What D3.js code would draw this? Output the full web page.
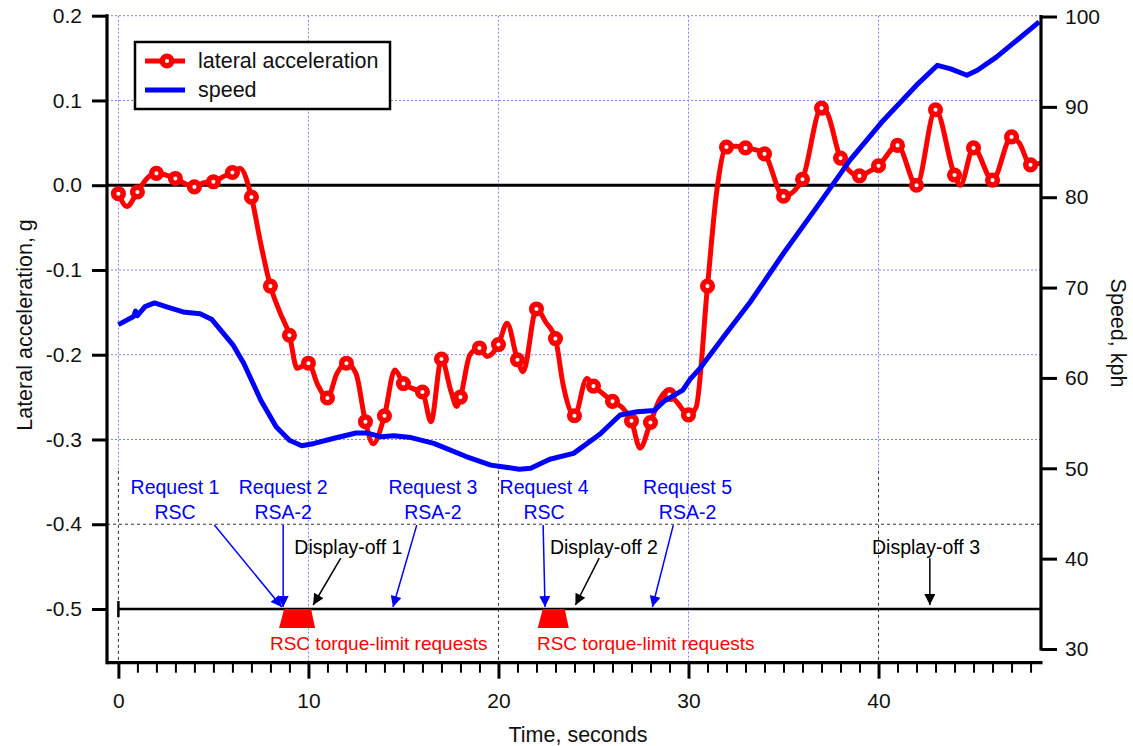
<!DOCTYPE html>
<html>
<head>
<meta charset="utf-8">
<script src="https://cdn.jsdelivr.net/npm/d3@7"></script>
<style>
body { margin: 0; background: #fff; }
text { font-family: "Liberation Sans", Arial, sans-serif; }
</style>
</head>
<body>
<svg id="chart" width="1133" height="746"></svg>
<script>
// lateral acceleration (g), markers sit on the whole seconds
var accelTime = [0, 0.45, 1, 1.5, 2, 2.5, 3, 3.5, 4, 4.5, 5, 5.5, 6, 6.4, 7, 7.5, 8, 8.5, 9, 9.4, 10, 10.5, 11, 11.5, 12, 12.5,
    13, 13.4, 14, 14.55, 15, 15.5, 16, 16.45, 17, 17.5, 17.8, 18, 18.5, 19, 19.4, 20, 20.45, 21, 21.3, 22, 22.5, 23, 23.4,
    24, 24.65, 25, 25.5, 26, 26.5, 27, 27.45, 28, 28.5, 28.8, 29, 29.4, 30, 30.4, 31, 31.5, 32, 32.5, 33, 33.5, 34, 35, 35.5,
    36, 37, 37.3, 38, 39, 39.5, 40, 41, 42, 43, 44, 44.3, 45, 46, 47, 47.4, 48, 48.5];
var accelG = [-0.010, -0.025, -0.008, 0.008, 0.014, 0.012, 0.008, 0.002, -0.002, 0.003, 0.004, 0.010, 0.015, 0.020, -0.014,
    -0.070, -0.119, -0.150, -0.177, -0.216, -0.210, -0.236, -0.251, -0.222, -0.210, -0.222,
    -0.279, -0.305, -0.272, -0.218, -0.234, -0.240, -0.244, -0.279, -0.205, -0.243, -0.261, -0.250, -0.200, -0.192, -0.202,
    -0.188, -0.163, -0.206, -0.220, -0.146, -0.162, -0.181, -0.235,
    -0.272, -0.228, -0.237, -0.246, -0.255, -0.262, -0.278, -0.310, -0.280, -0.252, -0.244, -0.247, -0.256, -0.271, -0.262,
    -0.119, -0.005, 0.045, 0.046, 0.044, 0.042, 0.037, -0.013, -0.008,
    0.007, 0.091, 0.085, 0.032, 0.011, 0.016, 0.023, 0.047, 0.000, 0.089, 0.012, 0.000, 0.044, 0.006, 0.057, 0.050, 0.024, 0.026];

// speed (kph)
var speedTime = [0, 0.8, 0.9, 1.0, 1.4, 1.9, 2.5, 3.4, 4.3, 4.9, 5.1, 5.7, 6.05, 6.6, 7.5, 8.3, 9.0, 9.65, 10.3, 11.3, 12.5,
    13.1, 13.8, 14.5, 15.4, 16.6, 18.3, 19.6, 21.1, 21.7, 22.7, 23.95, 25.35, 26.4, 27.3, 28.2, 28.7, 29.7, 30.1, 30.6,
    31.85, 33.25, 35.0, 36.75, 38.5, 40.25, 42.0, 43.1, 43.8, 44.65, 45.2, 46.2, 47.3, 48.45];
var speedKph = [65.9, 66.8, 67.4, 66.9, 67.9, 68.3, 67.9, 67.3, 67.1, 66.5, 66.0, 64.5, 63.6, 61.6, 57.5, 54.6, 53.1, 52.5,
    52.75, 53.3, 53.9, 53.9, 53.5, 53.6, 53.4, 52.75, 51.3, 50.35, 49.9, 50.0, 51.0, 51.65, 53.8, 55.9, 56.25, 56.4, 57.4,
    58.65, 59.9, 61.05, 64.55, 68.4, 73.8, 78.9, 84.1, 88.5, 92.4, 94.6, 94.2, 93.5, 94.05, 95.5, 97.4, 99.4];

// ticks
var leftTicks = [0.2, 0.1, 0.0, -0.1, -0.2, -0.3, -0.4, -0.5];
var rightTicks = [30, 40, 50, 60, 70, 80, 90, 100];
var timeMajorTicks = [0, 10, 20, 30, 40];
var timeMinorTicks = d3.range(1, 49).filter(function (t) { return t % 10 !== 0; });

// events along the -0.5 line
var requestNames = ['Request 1', 'Request 2', 'Request 3', 'Request 4', 'Request 5'];
var requestSystems = ['RSC', 'RSA-2', 'RSA-2', 'RSC', 'RSA-2'];
var requestTimes = [8.6, 8.67, 14.45, 22.45, 28.1];
var requestLabelTimes = [2.98, 8.67, 16.55, 22.4, 29.95];
var requestArrowFrom = [5.05, 8.67, 15.7, 22.35, 29.2];
var displayOffNames = ['Display-off 1', 'Display-off 2', 'Display-off 3'];
var displayOffTimes = [10.25, 24.05, 42.7];
var displayOffLabelTimes = [12.1, 25.55, 42.5];
var displayOffArrowFrom = [11.7, 25.3, 42.7];
var torqueStart = [8.72, 22.33];
var torqueEnd = [10.14, 23.49];
var torqueLabelTimes = [13.7, 27.75];

var svg = d3.select('#chart');
var left = 107, right = 1041, bottom = 662.7;

var x = d3.scaleLinear().domain([-0.6, 48.55]).range([left, right]);
var yL = d3.scaleLinear().domain([-0.5, 0.2]).range([609, 15.7]);
var yR = d3.scaleLinear().domain([30, 100]).range([649, 16.5]);
var panelSplit = -0.337;

// grid
var grid = svg.append('g');
grid.selectAll('line.hb').data([0.2, 0.1, -0.1, -0.2, -0.3]).enter().append('line')
    .attr('x1', left).attr('x2', right)
    .attr('y1', function (d) { return yL(d); }).attr('y2', function (d) { return yL(d); })
    .attr('style', 'stroke:#7f7fff;stroke-width:1;stroke-dasharray:2,2;');
grid.selectAll('line.hk').data([-0.4]).enter().append('line')
    .attr('x1', left).attr('x2', right)
    .attr('y1', function (d) { return yL(d); }).attr('y2', function (d) { return yL(d); })
    .attr('style', 'stroke:#333;stroke-width:1;stroke-dasharray:3,3;');
grid.selectAll('line.vb').data(timeMajorTicks).enter().append('line')
    .attr('x1', function (d) { return x(d); }).attr('x2', function (d) { return x(d); })
    .attr('y1', yL(0.2))
    .attr('y2', function (d) { return d % 20 === 0 ? yL(panelSplit) : bottom; })
    .attr('style', 'stroke:#7f7fff;stroke-width:1;stroke-dasharray:2,2;');
grid.selectAll('line.vk').data([0, 20, 40]).enter().append('line')
    .attr('x1', function (d) { return x(d); }).attr('x2', function (d) { return x(d); })
    .attr('y1', yL(panelSplit)).attr('y2', bottom)
    .attr('style', 'stroke:#333;stroke-width:1;stroke-dasharray:3,3;');

// zero line and event line
svg.append('line').attr('x1', left).attr('x2', right).attr('y1', yL(0)).attr('y2', yL(0))
    .attr('style', 'stroke:#000;stroke-width:3;');
svg.append('line').attr('x1', x(0)).attr('x2', right).attr('y1', yL(-0.5)).attr('y2', yL(-0.5))
    .attr('style', 'stroke:#000;stroke-width:2.5;');
svg.append('line').attr('x1', x(0)).attr('x2', x(0)).attr('y1', yL(-0.5) - 8).attr('y2', yL(-0.5) + 8)
    .attr('style', 'stroke:#000;stroke-width:2.5;');

// torque-limit trapezoids
var trap = svg.append('g');
torqueStart.forEach(function (s, i) {
    var y0 = yL(-0.5), y1 = y0 + 19;
    trap.append('polygon')
        .attr('points', [[x(s), y0], [x(torqueEnd[i]), y0], [x(torqueEnd[i]) + 4, y1], [x(s) - 5, y1]].join(' '))
        .attr('fill', '#ff0000');
    trap.append('text').attr('x', x(torqueLabelTimes[i])).attr('y', y0 + 41)
        .attr('text-anchor', 'middle').attr('fill', '#ff0000').attr('font-size', '19px')
        .text('RSC torque-limit requests');
});

// arrows
var defs = svg.append('defs');
[['headBlue', '#0000ff'], ['headBlack', '#000']].forEach(function (h) {
    defs.append('marker').attr('id', h[0]).attr('viewBox', '0 0 10 10')
        .attr('refX', 10).attr('refY', 5).attr('markerWidth', 15).attr('markerHeight', 11)
        .attr('markerUnits', 'userSpaceOnUse').attr('orient', 'auto')
        .append('path').attr('d', 'M0,0L10,5L0,10Z').attr('fill', h[1]);
});

var notes = svg.append('g');
requestNames.forEach(function (name, i) {
    notes.append('text').attr('x', x(requestLabelTimes[i])).attr('y', yL(-0.356) + 7)
        .attr('text-anchor', 'middle').attr('fill', '#0000ff').attr('font-size', '19.5px').text(name);
    notes.append('text').attr('x', x(requestLabelTimes[i])).attr('y', yL(-0.356) + 32)
        .attr('text-anchor', 'middle').attr('fill', '#0000ff').attr('font-size', '19.5px').text(requestSystems[i]);
    notes.append('line')
        .attr('x1', x(requestArrowFrom[i])).attr('y1', yL(-0.401))
        .attr('x2', x(requestTimes[i])).attr('y2', yL(-0.5) - 2)
        .attr('stroke', '#0000ff').attr('stroke-width', 1.5).attr('marker-end', 'url(#headBlue)');
});
displayOffNames.forEach(function (name, i) {
    notes.append('text').attr('x', x(displayOffLabelTimes[i])).attr('y', yL(-0.427) + 7)
        .attr('text-anchor', 'middle').attr('fill', '#000').attr('font-size', '19.5px').text(name);
    notes.append('line')
        .attr('x1', x(displayOffArrowFrom[i])).attr('y1', yL(-0.44))
        .attr('x2', x(displayOffTimes[i])).attr('y2', yL(-0.5) - 4)
        .attr('stroke', '#000').attr('stroke-width', 1.5).attr('marker-end', 'url(#headBlack)');
});

// lateral acceleration
var accel = accelTime.map(function (t, i) { return [t, accelG[i]]; });
var accelLine = d3.line()
    .x(function (d) { return x(d[0]); })
    .y(function (d) { return yL(d[1]); })
    .curve(d3.curveMonotoneX);
svg.append('path').datum(accel).attr('d', accelLine)
    .attr('style', 'fill:none;stroke:#ff0000;stroke-width:5;stroke-linejoin:round;');
svg.append('g').selectAll('circle')
    .data(accel.filter(function (d) { return Number.isInteger(d[0]); }))
    .enter().append('circle')
    .attr('cx', function (d) { return x(d[0]); })
    .attr('cy', function (d) { return yL(d[1]); })
    .attr('r', 4.8)
    .attr('style', 'fill:#fff;stroke:#ff0000;stroke-width:5.5;');

// speed
var speed = speedTime.map(function (t, i) { return [t, speedKph[i]]; });
svg.append('path').datum(speed)
    .attr('d', d3.line().x(function (d) { return x(d[0]); }).y(function (d) { return yR(d[1]); }))
    .attr('style', 'fill:none;stroke:#0000ff;stroke-width:5;stroke-linejoin:round;');

// axes
var axL = svg.append('g').attr('transform', 'translate(' + left + ',0)')
    .call(d3.axisLeft(yL).tickValues(leftTicks).tickSize(15).tickPadding(10)
        .tickFormat(function (d) { return d.toFixed(1); }));
var axR = svg.append('g').attr('transform', 'translate(' + right + ',0)')
    .call(d3.axisRight(yR).tickValues(rightTicks).tickSize(16).tickPadding(8));
var axB = svg.append('g').attr('transform', 'translate(0,' + bottom + ')')
    .call(d3.axisBottom(x).tickValues(timeMajorTicks).tickSize(16).tickPadding(14));
var axBm = svg.append('g').attr('transform', 'translate(0,' + bottom + ')')
    .call(d3.axisBottom(x).tickValues(timeMinorTicks).tickSize(10).tickFormat(''));
[axL, axR, axB, axBm].forEach(function (a) {
    a.select('.domain').remove();
    a.selectAll('.tick line').attr('stroke', '#000').attr('stroke-width', 3);
    a.selectAll('text').attr('font-size', '21px').attr('fill', '#111')
        .attr('font-family', '"Liberation Sans", Arial, sans-serif');
});
axBm.selectAll('.tick line').attr('stroke-width', 2);

svg.append('line').attr('x1', left).attr('x2', left).attr('y1', yL(0.2) - 1.5).attr('y2', bottom + 1.5)
    .attr('style', 'stroke:#000;stroke-width:3.2;');
svg.append('line').attr('x1', left).attr('x2', right + 1.5).attr('y1', bottom).attr('y2', bottom)
    .attr('style', 'stroke:#000;stroke-width:3.2;');
svg.append('line').attr('x1', right).attr('x2', right).attr('y1', yR(100) - 1.5).attr('y2', yR(30) + 1.5)
    .attr('style', 'stroke:#000;stroke-width:3.2;');

// axis titles
svg.append('text').attr('transform', 'translate(32,325) rotate(-90)')
    .attr('text-anchor', 'middle').attr('font-size', '21.5px').attr('fill', '#111')
    .text('Lateral acceleration, g');
svg.append('text').attr('transform', 'translate(1111,333) rotate(90)')
    .attr('text-anchor', 'middle').attr('font-size', '21.5px').attr('fill', '#111')
    .text('Speed, kph');
svg.append('text').attr('x', (left + right) / 2 + 4).attr('y', 742)
    .attr('text-anchor', 'middle').attr('font-size', '21.5px').attr('fill', '#111')
    .text('Time, seconds');

// legend
var legend = svg.append('g');
legend.append('rect').attr('x', 135).attr('y', 42).attr('width', 255).attr('height', 67)
    .attr('style', 'fill:#fff;stroke:#000;stroke-width:2.5;');
legend.append('line').attr('x1', 145).attr('x2', 185).attr('y1', 61).attr('y2', 61)
    .attr('style', 'stroke:#ff0000;stroke-width:5;');
legend.append('circle').attr('cx', 167).attr('cy', 61).attr('r', 4.8)
    .attr('style', 'fill:#fff;stroke:#ff0000;stroke-width:5.5;');
legend.append('line').attr('x1', 145).attr('x2', 185).attr('y1', 90).attr('y2', 90)
    .attr('style', 'stroke:#0000ff;stroke-width:5;');
legend.append('text').attr('x', 198).attr('y', 68).attr('font-size', '21.5px').attr('fill', '#111')
    .text('lateral acceleration');
legend.append('text').attr('x', 198).attr('y', 97).attr('font-size', '21.5px').attr('fill', '#111')
    .text('speed');
</script>
</body>
</html>
